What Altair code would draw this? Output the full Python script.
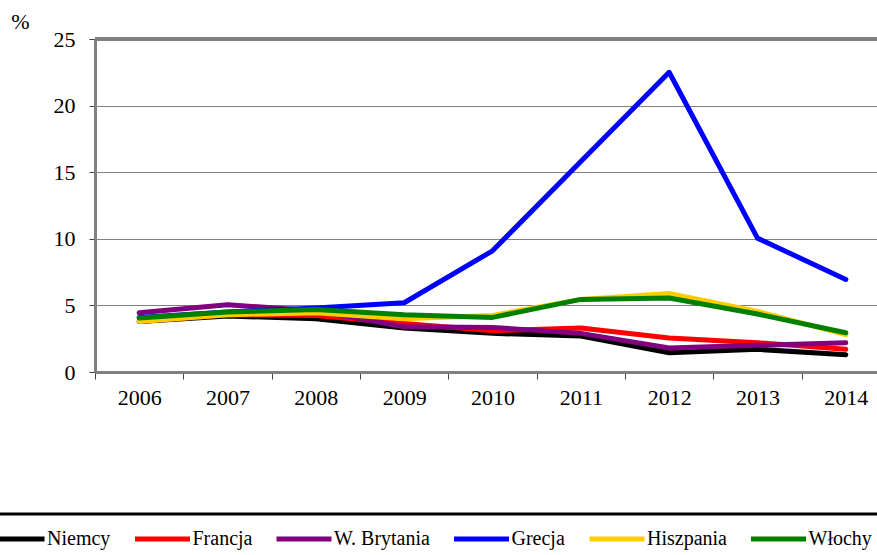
import altair as alt
import pandas as pd

years = ["2006", "2007", "2008", "2009", "2010", "2011", "2012", "2013", "2014"]
countries = ["Niemcy", "Francja", "W. Brytania", "Grecja", "Hiszpania", "Włochy"]
colors = ["#000000", "#FF0000", "#800080", "#0000FF", "#FFCC00", "#008000"]

niemcy = [3.8, 4.2, 4.0, 3.3, 2.9, 2.7, 1.45, 1.7, 1.3]
francja = [3.8, 4.3, 4.25, 3.65, 3.1, 3.3, 2.55, 2.2, 1.7]
w_brytania = [4.45, 5.05, 4.6, 3.4, 3.35, 2.9, 1.8, 2.0, 2.2]
grecja = [4.1, 4.5, 4.8, 5.2, 9.1, 15.8, 22.5, 10.05, 6.95]
hiszpania = [3.8, 4.3, 4.45, 4.0, 4.25, 5.45, 5.9, 4.55, 2.8]
wlochy = [4.05, 4.5, 4.7, 4.3, 4.1, 5.45, 5.55, 4.35, 2.95]

series = [niemcy, francja, w_brytania, grecja, hiszpania, wlochy]
rows = []
for c, vals in zip(countries, series):
    for y, v in zip(years, vals):
        rows.append({"rok": y, "kraj": c, "val": v})
df = pd.DataFrame(rows)

FONT = "Liberation Serif, Times New Roman, DejaVu Serif, serif"

x_enc = alt.X(
    "rok:N",
    sort=years,
    scale=alt.Scale(type="band", paddingInner=0, paddingOuter=0, range=[0, 795]),
    axis=alt.Axis(
        title=None, labelAngle=0, labelFont=FONT, labelFontSize=22, labelColor="black",
        labelPadding=8, tickBand="extent", tickSize=7, tickColor="#404040", tickWidth=1,
        domainColor="#808080", domainWidth=3, grid=False,
    ),
)
y_enc = alt.Y(
    "val:Q",
    scale=alt.Scale(domain=[0, 25], nice=False, zero=True),
    axis=alt.Axis(
        title="%", titleAngle=0, titleFont=FONT, titleFontSize=22, titleFontWeight="normal",
        titleColor="black", titleX=-75, titleY=-18, titleAlign="center", titleBaseline="middle",
        values=[0, 5, 10, 15, 20, 25], labelFont=FONT, labelFontSize=22, labelColor="black",
        labelPadding=14, tickSize=6, tickColor="#404040", tickWidth=1,
        domainColor="#808080", domainWidth=3, grid=True, gridColor="#808080", gridWidth=1,
    ),
)
color_enc = alt.Color(
    "kraj:N",
    scale=alt.Scale(domain=countries, range=colors),
    legend=alt.Legend(
        title=None, orient="none", legendX=-108, legendY=470, direction="horizontal",
        columns=6, symbolType="stroke", symbolSize=3025, symbolStrokeWidth=5,
        labelFont=FONT, labelFontSize=20, labelColor="black", labelOffset=0,
        columnPadding=13.5, padding=0,
    ),
)

layers = []
for c in countries:
    layers.append(
        alt.Chart(df)
        .transform_filter(alt.datum.kraj == c)
        .mark_line(strokeWidth=5, strokeCap="round", strokeJoin="round")
        .encode(x=x_enc, y=y_enc, color=color_enc)
    )

one = pd.DataFrame({"a": [0]})
top_border = alt.Chart(one).mark_rule(color="#808080", strokeWidth=4).encode(
    x=alt.value(0), x2=alt.value(795), y=alt.value(0)
)
sep = alt.Chart(one).mark_rule(color="black", strokeWidth=3).encode(
    x=alt.value(-95), x2=alt.value(782), y=alt.value(475)
)

chart = (
    alt.layer(*layers, top_border, sep)
    .properties(
        width=782, height=333,
        autosize=alt.AutoSizeParams(type="none"),
        padding={"left": 95, "top": 39, "right": 0, "bottom": 183},
        background="white",
    )
    .configure_view(stroke=None)
    .configure_legend(symbolStrokeWidth=5)
)

chart.save("out.html", embed_options={"renderer": "svg", "actions": False})
